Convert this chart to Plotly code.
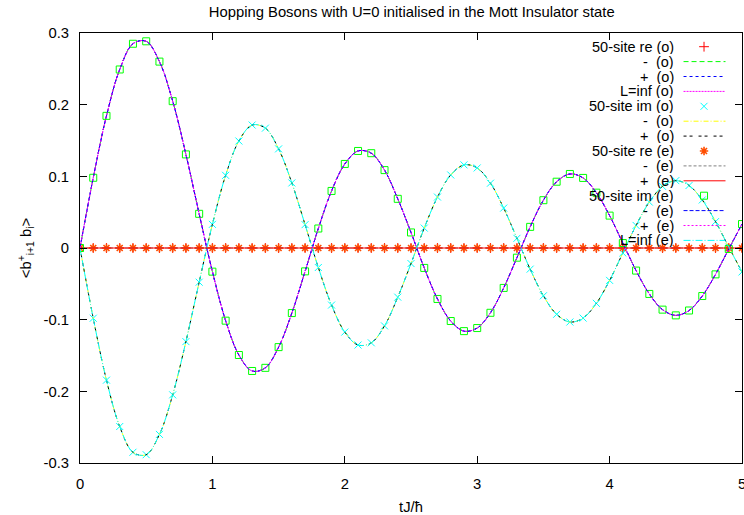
import plotly.graph_objects as go

# ---------------- data ----------------
t = [0.0, 0.1, 0.2, 0.3, 0.4, 0.5, 0.6, 0.7, 0.8, 0.9,
     1.0, 1.1, 1.2, 1.3, 1.4, 1.5, 1.6, 1.7, 1.8, 1.9,
     2.0, 2.1, 2.2, 2.3, 2.4, 2.5, 2.6, 2.7, 2.8, 2.9,
     3.0, 3.1, 3.2, 3.3, 3.4, 3.5, 3.6, 3.7, 3.8, 3.9,
     4.0, 4.1, 4.2, 4.3, 4.4, 4.5, 4.6, 4.7, 4.8, 4.9, 5.0]

re_part = [0.0, 0.0, 0.0, 0.0, 0.0, 0.0, 0.0, 0.0, 0.0, 0.0,
           0.0, 0.0, 0.0, 0.0, 0.0, 0.0, 0.0, 0.0, 0.0, 0.0,
           0.0, 0.0, 0.0, 0.0, 0.0, 0.0, 0.0, 0.0, 0.0, 0.0,
           0.0, 0.0, 0.0, 0.0, 0.0, 0.0, 0.0, 0.0, 0.0, 0.0,
           0.0, 0.0, 0.0, 0.0, 0.0, 0.0, 0.0, 0.0, 0.0, 0.0, 0.0]

im_up = [0.0, 0.0980, 0.1844, 0.2491, 0.2850, 0.2884, 0.2601, 0.2049, 0.1306, 0.0477,
         -0.0330, -0.1014, -0.1493, -0.1716, -0.1672, -0.1383, -0.0908, -0.0326, 0.0272, 0.0796,
         0.1173, 0.1354, 0.1323, 0.1087, 0.0686, 0.0217, -0.0278, -0.0711, -0.1019, -0.1160,
         -0.1117, -0.0904, -0.0557, -0.0135, 0.0295, 0.0667, 0.0925, 0.1033, 0.0978, 0.0772,
         0.0452, 0.0069, -0.0315, -0.0641, -0.0860, -0.0940, -0.0872, -0.0670, -0.0368, -0.0014, 0.0334]

im_down = [0.0, -0.0980, -0.1844, -0.2491, -0.2850, -0.2884, -0.2601, -0.2049, -0.1306, -0.0477,
           0.0330, 0.1014, 0.1493, 0.1716, 0.1672, 0.1383, 0.0908, 0.0326, -0.0272, -0.0796,
           -0.1173, -0.1354, -0.1323, -0.1087, -0.0686, -0.0217, 0.0278, 0.0711, 0.1019, 0.1160,
           0.1117, 0.0904, 0.0557, 0.0135, -0.0295, -0.0667, -0.0925, -0.1033, -0.0978, -0.0772,
           -0.0452, -0.0069, 0.0315, 0.0641, 0.0860, 0.0940, 0.0872, 0.0670, 0.0368, 0.0014, -0.0334]

labels = ["50-site re (o)", "-  (o)", "+  (o)", "L=inf (o)", "50-site im (o)", "-  (o)", "+  (o)",
          "50-site re (e)", "-  (e)", "+  (e)", "50-site im (e)", "-  (e)", "+  (e)", "L=inf (e)"]

y_ticks = [-0.3, -0.2, -0.1, 0.0, 0.1, 0.2, 0.3]
y_tick_text = ["-0.3", "-0.2", "-0.1", "0", "0.1", "0.2", "0.3"]
x_ticks = [0, 1, 2, 3, 4, 5]
x_tick_text = ["0", "1", "2", "3", "4", "5"]

# ---------------- styles ----------------
series = [re_part, im_up, im_up, im_up, im_down, im_down, im_down,
          re_part, re_part, re_part, im_up, im_up, im_up, im_down]
styles = [
    dict(kind="m", color="#ff0000", symbol="cross-thin-open", size=7, lw=1),
    dict(kind="l", color="#00ff00", dash="5px,3px"),
    dict(kind="l", color="#0000ff", dash="3px,3px"),
    dict(kind="l", color="#ff00ff", dash="2px,1px"),
    dict(kind="m", color="#00ffff", symbol="x-thin-open", size=7, lw=1),
    dict(kind="l", color="#ffff00", dash="5px,2px,1px,2px"),
    dict(kind="l", color="#000000", dash="3px,3px,3px,6px"),
    dict(kind="m", color="#ff4d00", symbol="asterisk-open", size=7, lw=1.6),
    dict(kind="l", color="#808080", dash="3px,2px"),
    dict(kind="l", color="#ff0000", dash="solid"),
    dict(kind="m", color="#00ff00", symbol="square-open", size=7, lw=1),
    dict(kind="l", color="#0000ff", dash="4px,2px"),
    dict(kind="l", color="#ff00ff", dash="2px,2px"),
    dict(kind="l", color="#00ffff", dash="7px,2px,1px,2px"),
]

FONT = "Liberation Sans, Arial, Helvetica, sans-serif"
FS = 14.8
KEY_FS = 14.5

fig = go.Figure()

for ys, st, lab in zip(series, styles, labels):
    if st["kind"] == "m":
        fig.add_trace(go.Scatter(
            x=t, y=ys, mode="markers", name=lab, showlegend=False,
            marker=dict(symbol=st["symbol"], size=st["size"], color=st["color"],
                        line=dict(width=st["lw"], color=st["color"]))))
    else:
        fig.add_trace(go.Scatter(
            x=t, y=ys, mode="lines", name=lab, showlegend=False,
            line=dict(color=st["color"], width=1, dash=st["dash"], shape="spline")))

# ---------------- custom key (text right, sample at right, gnuplot style) ----------------
PLOT_L, PLOT_R, PLOT_T, PLOT_B = 80.0, 742.5, 33.0, 463.0
W = PLOT_R - PLOT_L
H = PLOT_B - PLOT_T


def px_x(p):
    return (p - PLOT_L) / W


def px_y(p):
    return (PLOT_B - p) / H


row0, rowstep = 46.7, 14.9
text_right = px_x(675.5)
samp_l, samp_r = px_x(684.0), px_x(726.0)
samp_c = px_x(704.5)

for i, (lab, st) in enumerate(zip(labels, styles)):
    yy = px_y(row0 + rowstep * i)
    fig.add_annotation(x=text_right, y=yy, xref="paper", yref="paper", text=lab,
                       showarrow=False, xanchor="right", yanchor="middle",
                       borderpad=0, height=14,
                       font=dict(family=FONT, size=KEY_FS, color="black"))
    if st["kind"] == "l":
        fig.add_shape(type="line", xref="paper", yref="paper", x0=samp_l, x1=samp_r, y0=yy, y1=yy,
                      line=dict(color=st["color"], width=1, dash=st["dash"]))
    else:
        fig.add_trace(go.Scatter(
            x=[samp_c], y=[yy], xaxis="x2", yaxis="y2", mode="markers", showlegend=False,
            hoverinfo="skip",
            marker=dict(symbol=st["symbol"], size=st["size"], color=st["color"],
                        line=dict(width=st["lw"], color=st["color"]))))

axis_common = dict(showline=True, linecolor="black", linewidth=1, mirror="ticks",
                   ticks="inside", ticklen=7, tickwidth=1, tickcolor="black",
                   showgrid=False, zeroline=False, ticklabeloverflow="allow",
                   tickfont=dict(family=FONT, size=FS, color="black"))

fig.update_layout(
    width=744, height=515,
    margin=dict(l=PLOT_L, r=744 - PLOT_R, t=PLOT_T, b=515 - PLOT_B, autoexpand=False),
    paper_bgcolor="white", plot_bgcolor="white",
    showlegend=False,
    title=dict(text="Hopping Bosons with U=0 initialised in the Mott Insulator state",
               x=px_x(412.0), xref="paper", xanchor="center",
               y=1 - 12.0 / 515, yref="container", yanchor="middle",
               font=dict(family=FONT, size=FS, color="black")),
    xaxis=dict(range=[0, 5], tickvals=x_ticks, ticktext=x_tick_text,
               ticklabelstandoff=7,
               title=dict(text="tJ/ħ", standoff=10, font=dict(family=FONT, size=FS, color="black")),
               **axis_common),
    yaxis=dict(range=[-0.3, 0.3], tickvals=y_ticks, ticktext=y_tick_text,
               ticklabelstandoff=7,
               title=dict(text="&lt;b<sup>+</sup><sub>i+1</sub> b<sub>i</sub>&gt;", standoff=8,
                          font=dict(family=FONT, size=FS, color="black")),
               **axis_common),
    xaxis2=dict(overlaying="x", range=[0, 1], visible=False, anchor="y2"),
    yaxis2=dict(overlaying="y", range=[0, 1], visible=False, anchor="x2"),
)

fig.write_html("out.html")
